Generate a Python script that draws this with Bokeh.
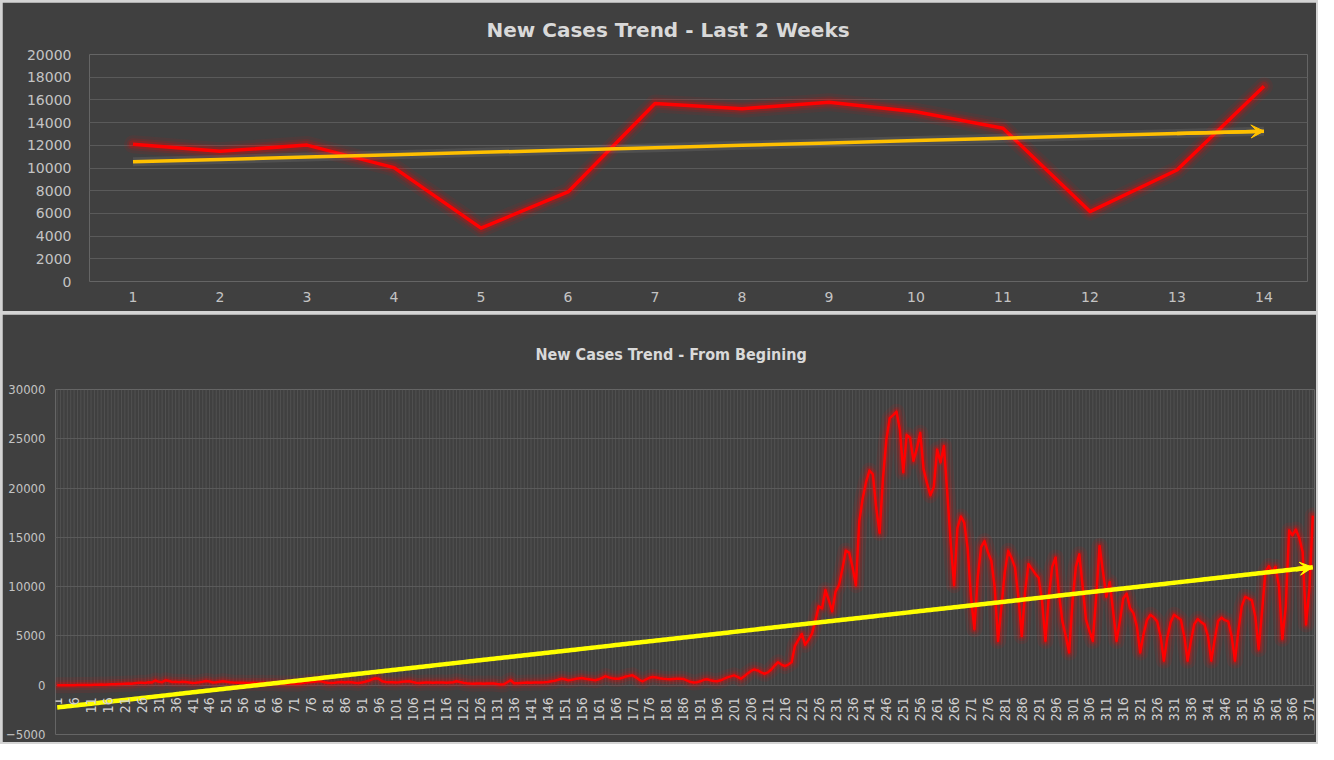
import math
import numpy as np
from bokeh.plotting import figure
from bokeh.layouts import column
from bokeh.models import FixedTicker, Arrow, VeeHead, Range1d
from bokeh.embed import file_html
from bokeh.resources import INLINE
from bokeh.core.properties import value

# ---------------- data ----------------
recent_days = list(range(1, 15))
recent_cases = [12085, 11470, 12020, 10030, 4700, 7890, 15690,
                15220, 15800, 14950, 13510, 6160, 9820, 17210]
top_y_ticks = [0, 2000, 4000, 6000, 8000, 10000, 12000, 14000, 16000, 18000, 20000]

all_cases = [
    1, 0, 2, 3, 5, 8, 10, 14, 20, 25,
    28, 45, 38, 62, 55, 80, 94, 88, 120, 135,
    150, 170, 140, 210, 240, 260, 230, 300, 280, 480,
    340, 310, 500, 420, 330, 350, 300, 340, 320, 280,
    230, 260, 300, 350, 430, 380, 270, 310, 360, 400,
    350, 300, 270, 260, 240, 250, 230, 220, 240, 230,
    220, 240, 210, 230, 220, 200, 180, 170, 160, 180,
    170, 150, 190, 240, 300, 330, 360, 400, 390, 310,
    240, 230, 260, 300, 320, 280, 330, 290, 250, 230,
    280, 350, 450, 600, 700, 650, 400, 330, 310, 290,
    270, 300, 350, 380, 400, 320, 260, 230, 250, 270,
    280, 260, 270, 280, 270, 260, 280, 300, 400, 320,
    250, 200, 170, 160, 170, 180, 160, 170, 180, 170,
    120, 80, 100, 300, 500, 200, 190, 220, 250, 270,
    260, 280, 270, 280, 300, 330, 400, 450, 550, 660,
    600, 500, 550, 620, 680, 730, 650, 600, 550, 500,
    600, 750, 930, 800, 700, 650, 660, 750, 880, 950,
    1000, 800, 550, 400, 600, 750, 830, 780, 700, 650,
    620, 600, 630, 650, 660, 640, 500, 350, 270, 300,
    400, 550, 600, 500, 420, 400, 500, 650, 800, 900,
    1000, 850, 660, 900, 1200, 1450, 1600, 1500, 1300, 1160,
    1300, 1600, 2000, 2330, 2100, 1930, 2100, 2330, 4000, 4600,
    5200, 4100, 4600, 5200, 6500, 8000, 7800, 9650, 8600, 7500,
    9500, 10150, 11800, 13650, 13450, 12000, 10150, 16650, 18950, 20600,
    21770, 21400, 18000, 15450, 21000, 24900, 27100, 27400, 27750, 25900,
    21600, 25400, 25100, 22760, 24000, 25600, 21900, 20500, 19270, 20100,
    23900, 22600, 24260, 19500, 14500, 10140, 15950, 17120, 16500, 13960,
    9000, 5680, 11000, 14000, 14620, 13500, 12630, 9970, 4490, 8000,
    11500, 13630, 12900, 11960, 9000, 4985, 9500, 12300, 11800, 11300,
    10900, 8500, 4490, 9000, 12000, 12960, 9300, 6500, 5000, 3320,
    8500, 12000, 13290, 10000, 6650, 5500, 4490, 9000, 14130, 11500,
    8970, 10470, 7500, 4490, 6500, 8800, 9300, 7810, 7310, 6000,
    3320, 5200, 6600, 7150, 6900, 6480, 5000, 2490, 4800, 6400,
    7150, 6900, 6650, 5000, 2490, 4500, 6200, 6710, 6400, 6150,
    5000, 2490, 4600, 6500, 6860, 6600, 6480, 5000, 2490, 5500,
    8000, 8970, 8800, 8600, 7000, 3660, 7500, 11500,
    12085, 11470, 12020, 10030, 4700, 7890, 15690,
    15220, 15800, 14950, 13510, 6160, 9820, 17210,
]
all_days = list(range(1, len(all_cases) + 1))
bottom_x_ticks = all_days[::5]
bottom_y_ticks = [-5000, 0, 5000, 10000, 15000, 20000, 25000, 30000]

top_title = "New Cases Trend - Last 2 Weeks"
bottom_title = "New Cases Trend - From Begining"

# ---------------- style ----------------
BG = "#404040"
GRID = "#5a5a5a"
LABEL = "#c4c4c4"
NARROW = "DejaVu Sans Condensed"

# linear trends (Excel-style trendline)
k1, b1 = np.polyfit(recent_days, recent_cases, 1)
trend_top = [k1 * d + b1 for d in recent_days]
k2, b2 = np.polyfit(all_days, all_cases, 1)
trend_all = [k2 * d + b2 for d in all_days]

# ---------------- top chart ----------------
p1 = figure(width=1314, height=309,
            x_range=Range1d(recent_days[0] - 0.5, recent_days[-1] + 0.5),
            y_range=Range1d(top_y_ticks[0], top_y_ticks[-1]),
            output_backend="svg", toolbar_location=None,
            background_fill_color=BG, border_fill_color=BG, outline_line_color=None,
            min_border_left=87, min_border_right=9, min_border_top=51, min_border_bottom=30)
p1.frame_align = False
p1.title.text = top_title
p1.title.align = "left"
p1.title.offset = 397
p1.title.standoff = 26
p1.title.text_font = "DejaVu Sans"
p1.title.text_font_size = "20px"
p1.title.text_font_style = "bold"
p1.title.text_color = "#d9d9d9"

p1.xaxis.ticker = FixedTicker(ticks=recent_days)
p1.yaxis.ticker = FixedTicker(ticks=top_y_ticks)
for ax in (p1.xaxis, p1.yaxis):
    ax.axis_line_color = None
    ax.major_tick_line_color = None
    ax.minor_tick_line_color = None
    ax.major_tick_out = 0
    ax.major_tick_in = 0
    ax.major_label_text_font = "DejaVu Sans"
    ax.major_label_text_font_size = "14px"
    ax.major_label_text_color = LABEL
p1.xaxis.major_label_standoff = 10
p1.yaxis.major_label_standoff = 18
p1.xgrid.grid_line_color = None
p1.ygrid.ticker = FixedTicker(ticks=top_y_ticks)
p1.ygrid.grid_line_color = GRID
p1.ygrid.grid_line_width = 1

# glow + main red line
for w, a in ((18, 0.07), (12, 0.12), (8, 0.2)):
    p1.line(recent_days, recent_cases, line_color="#ff0000", line_width=w, line_alpha=a,
            line_join="round", line_cap="round")
p1.line(recent_days, recent_cases, line_color="#ff0000", line_width=3.5, line_join="round")

# trend line (orange) with soft glow and arrow
p1.line(recent_days, trend_top, line_color="#ffffff", line_width=9, line_alpha=0.08)
p1.line(recent_days, trend_top, line_color="#ffc000", line_width=3.5)
p1.add_layout(Arrow(end=VeeHead(size=13, fill_color="#ffc000", line_color="#ffc000"),
                    x_start=recent_days[-2], y_start=trend_top[-2],
                    x_end=recent_days[-1], y_end=trend_top[-1],
                    line_color="#ffc000", line_width=3.5))

# ---------------- bottom chart ----------------
p2 = figure(width=1314, height=428,
            x_range=Range1d(all_days[0] - 0.5, all_days[-1] + 0.5),
            y_range=Range1d(bottom_y_ticks[0], bottom_y_ticks[-1]),
            output_backend="svg", toolbar_location=None,
            background_fill_color=BG, border_fill_color=BG, outline_line_color=None,
            min_border_left=50, min_border_right=2, min_border_top=75, min_border_bottom=8)
p2.frame_align = False
p2.title.text = bottom_title
p2.title.align = "left"
p2.title.offset = 480
p2.title.standoff = 52
p2.title.text_font = NARROW
p2.title.text_font_size = "16px"
p2.title.text_font_style = "bold"
p2.title.text_color = "#d9d9d9"

p2.xaxis.ticker = FixedTicker(ticks=bottom_x_ticks)
p2.xaxis.fixed_location = 0
p2.xaxis.major_label_orientation = math.pi / 2
p2.yaxis.ticker = FixedTicker(ticks=bottom_y_ticks)
for ax in (p2.xaxis, p2.yaxis):
    ax.axis_line_color = None
    ax.major_tick_line_color = None
    ax.minor_tick_line_color = None
    ax.major_tick_out = 0
    ax.major_tick_in = 0
    ax.major_label_text_font = NARROW
    ax.major_label_text_color = LABEL
p2.xaxis.major_label_text_font_size = "14px"
p2.xaxis.major_label_text_color = "#d0d0d0"
p2.yaxis.major_label_text_font_size = "13px"
p2.xaxis.major_label_standoff = 12
p2.yaxis.major_label_standoff = 10
p2.xgrid.grid_line_color = None
p2.ygrid.ticker = FixedTicker(ticks=bottom_y_ticks[1:])
p2.ygrid.grid_line_color = GRID

# dense vertical category gridlines (from 0 up to the top of the value axis)
p2.segment(x0=all_days, y0=[bottom_y_ticks[1]] * len(all_days),
           x1=all_days, y1=[bottom_y_ticks[-1]] * len(all_days),
           line_color="#5e5e5e", line_width=1, line_alpha=0.55)

for w, a in ((16, 0.08), (10, 0.13), (6, 0.22)):
    p2.line(all_days, all_cases, line_color="#ff0000", line_width=w, line_alpha=a,
            line_join="round", line_cap="round")
p2.line(all_days, all_cases, line_color="#ff0000", line_width=2.5, line_join="round")

p2.line(all_days, trend_all, line_color="#ffff00", line_width=4.5)
p2.add_layout(Arrow(end=VeeHead(size=13, fill_color="#ffff00", line_color="#ffff00"),
                    x_start=all_days[-6], y_start=trend_all[-6],
                    x_end=all_days[-1], y_end=trend_all[-1],
                    line_color="#ffff00", line_width=4.5))

layout = column(p1, p2, spacing=3,
                styles={"background-color": "#d4d4d4", "padding": "2px"})

open("out.html", "w").write(file_html(layout, INLINE))
